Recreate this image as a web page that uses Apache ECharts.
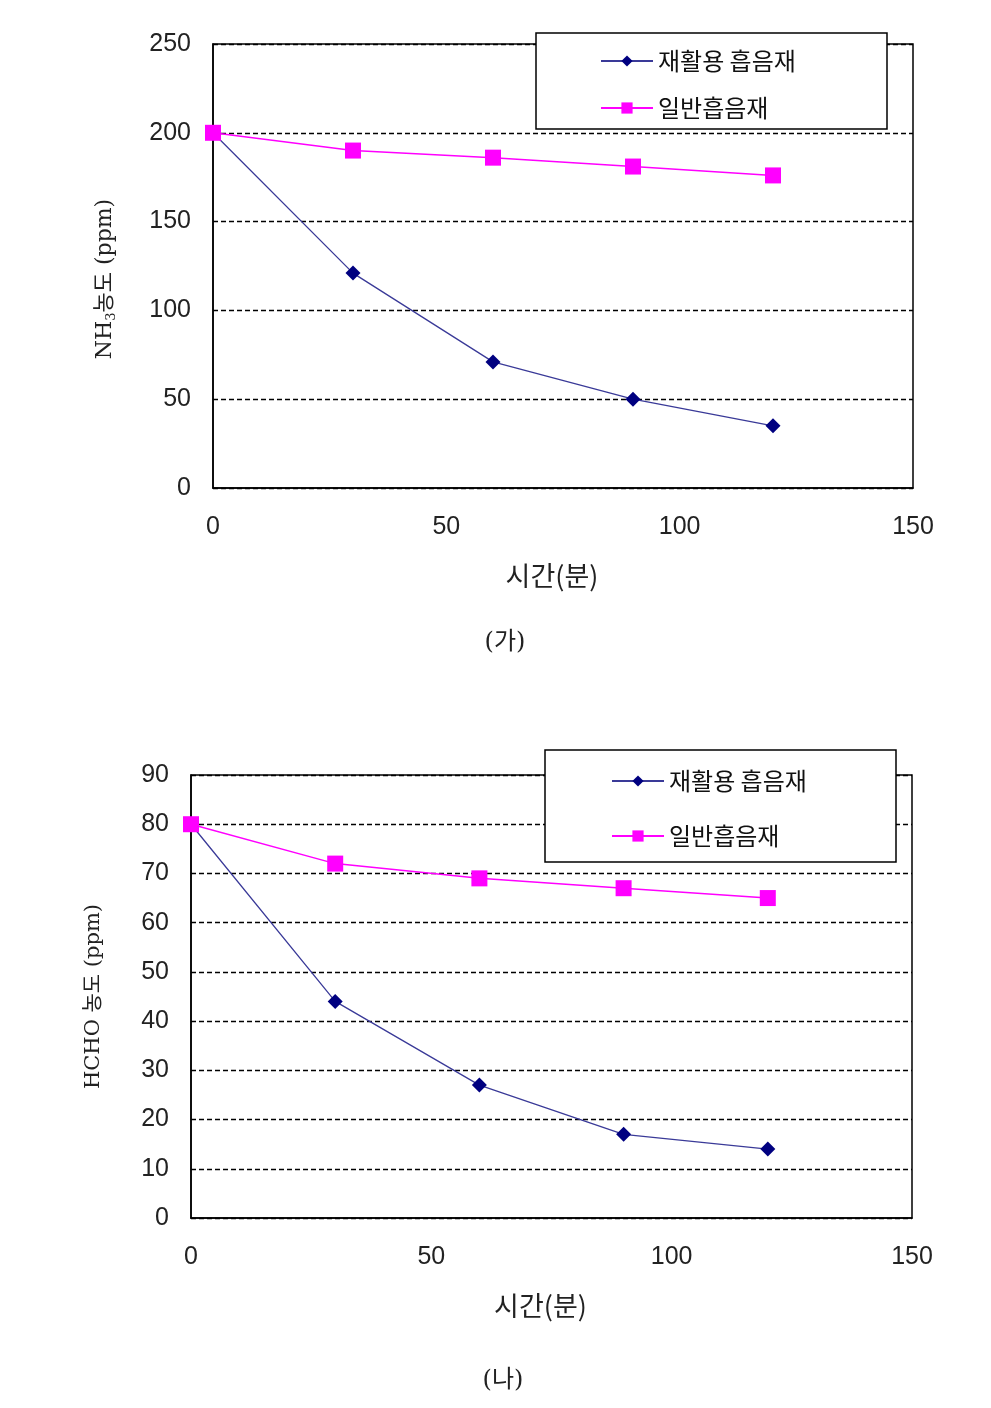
<!DOCTYPE html>
<html><head><meta charset="utf-8">
<script src="https://cdn.jsdelivr.net/npm/echarts@6/dist/echarts.min.js"></script>
<style>html,body{margin:0;padding:0;background:#fff}#c{width:991px;height:1408px}</style>
</head><body><div id="c"></div>
<script>
const times = [0, 30, 60, 90, 120];
const seriesNames = ['재활용 흡음재', '일반흡음재'];
const nh3Recycled = [200, 121, 71, 50, 35];
const nh3General = [200, 190, 186, 181, 176];
const hchoRecycled = [80, 44, 27, 17, 14];
const hchoGeneral = [80, 72, 69, 67, 65];
const xAxisName = '시간(분)';
const captions = ['(가)', '(나)'];

const pairs = (xs, ys) => xs.map((x, i) => [x, ys[i]]);
const tickFont = {fontFamily: 'Liberation Sans, Arial, sans-serif', fontSize: 25, color: '#222'};
const korFont = 'Noto Sans CJK KR, sans-serif';
const serifKor = 'DejaVu Serif, Noto Sans CJK KR, serif';

function xAxis(gi) {
  return {
    type: 'value', gridIndex: gi, min: 0, max: 150, interval: 50,
    name: xAxisName, nameLocation: 'middle', nameGap: 74,
    nameTextStyle: {fontFamily: korFont, fontSize: 27, color: '#222', padding: [0, 22, 0, 0]},
    axisLine: {show: true, lineStyle: {color: '#000', width: 1.5}},
    axisTick: {show: false},
    splitLine: {show: false},
    axisLabel: Object.assign({margin: 27}, tickFont)
  };
}
function yAxis(gi, max, interval, name, rich, pad) {
  return {
    type: 'value', gridIndex: gi, min: 0, max: max, interval: interval,
    name: name, nameLocation: 'middle', nameGap: gi === 0 ? 95 : 87, nameRotate: 90,
    nameTextStyle: {fontFamily: serifKor, fontSize: 21, color: '#222', rich: rich, padding: pad},
    axisLine: {show: true, lineStyle: {color: '#000', width: 1.5}},
    axisTick: {show: false},
    splitLine: {show: true, lineStyle: {color: '#000', type: [5, 3], width: 1.3}},
    axisLabel: Object.assign({margin: 22}, tickFont)
  };
}
function recycledSeries(gi, data) {
  return {
    name: seriesNames[0], type: 'line', xAxisIndex: gi, yAxisIndex: gi,
    data: pairs(times, data), symbol: 'diamond', symbolSize: 15,
    itemStyle: {color: '#000080'}, lineStyle: {color: '#3a3a98', width: 1.3},
    z: 3, animation: false
  };
}
function generalSeries(gi, data) {
  return {
    name: seriesNames[1], type: 'line', xAxisIndex: gi, yAxisIndex: gi,
    data: pairs(times, data), symbol: 'rect', symbolSize: 16,
    itemStyle: {color: '#ff00ff'}, lineStyle: {color: '#ff00ff', width: 1.5},
    z: 4, animation: false
  };
}
const rich = {
  a: {fontFamily: serifKor, fontSize: 22, color: '#222'},
  s: {fontFamily: serifKor, fontSize: 13, color: '#222', verticalAlign: 'bottom', padding: [12, 0, 0, 0]}
};
function legend(left, top, gap) {
  return {
    data: seriesNames, orient: 'vertical', left: left, top: top,
    itemWidth: 52, itemHeight: 14, itemGap: gap,
    textStyle: {fontFamily: korFont, fontSize: 24, color: '#111'},
    z: 20
  };
}
const chart = echarts.init(document.getElementById('c'));
chart.setOption({
  backgroundColor: '#fff',
  animation: false,
  grid: [
    {left: 213, right: 78, top: 44, height: 444, show: true, borderColor: '#000', borderWidth: 1.5, backgroundColor: 'transparent'},
    {left: 191, right: 79, top: 775, height: 443, show: true, borderColor: '#000', borderWidth: 1.5, backgroundColor: 'transparent'}
  ],
  xAxis: [xAxis(0), xAxis(1)],
  yAxis: [
    yAxis(0, 250, 50, '{a|NH}{s|3}{a|농도 (ppm)}', rich, [0, 26, 0, 0]),
    yAxis(1, 90, 10, 'HCHO 농도 (ppm)', rich, 0)
  ],
  legend: [legend(595, 44, 23), legend(606, 764, 31)],
  series: [
    recycledSeries(0, nh3Recycled), generalSeries(0, nh3General),
    recycledSeries(1, hchoRecycled), generalSeries(1, hchoGeneral)
  ],
  graphic: [
    {type: 'rect', shape: {x: 536, y: 33, width: 351, height: 96}, style: {fill: '#fff', stroke: '#000', lineWidth: 1.5}, z: 10},
    {type: 'rect', shape: {x: 545, y: 750, width: 351, height: 112}, style: {fill: '#fff', stroke: '#000', lineWidth: 1.5}, z: 10},
    {type: 'text', x: 505, y: 643, style: {text: captions[0], font: '24px ' + serifKor, fill: '#222', align: 'center', verticalAlign: 'middle'}},
    {type: 'text', x: 503, y: 1381, style: {text: captions[1], font: '24px ' + serifKor, fill: '#222', align: 'center', verticalAlign: 'middle'}}
  ]
});
</script></body></html>
